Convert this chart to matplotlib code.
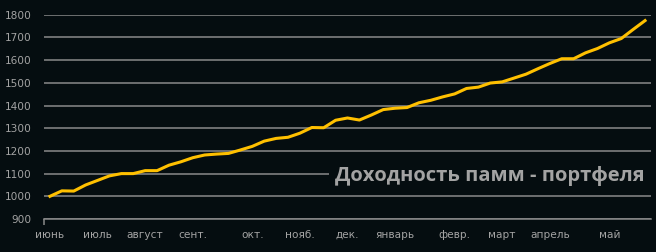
import matplotlib.pyplot as plt

# weekly values, June .. May
values = [
    1000, 1024, 1023, 1050, 1070, 1090, 1100, 1100, 1113, 1113,
    1137, 1152, 1170, 1182, 1186, 1189, 1204, 1220, 1243, 1255,
    1260, 1278, 1303, 1302, 1335, 1345, 1336, 1358, 1382, 1388,
    1391, 1412, 1423, 1438, 1451, 1475, 1481, 1499, 1504, 1521,
    1538, 1562, 1585, 1606, 1606, 1632, 1651, 1676, 1695, 1735,
    1774,
]
month_pos = [0, 4, 8, 12, 17, 21, 25, 29, 34, 38, 42, 47]
month_labels = ["июнь", "июль", "август", "сент.", "окт.", "нояб.",
                "дек.", "январь", "февр.", "март", "апрель", "май"]
y_ticks = list(range(900, 1801, 100))
title = "Доходность памм - портфеля"

bg = "#050d10"
txt = "#a3a3a3"
grid = "#8a8a8a"

plt.rcParams["font.family"] = ["DejaVu Sans"]

fig = plt.figure(figsize=(6.56, 2.52), dpi=100, facecolor=bg)
ax = fig.add_axes([44 / 656, 1 - 219 / 252, 607 / 656, (219 - 14.7) / 252])
ax.set_facecolor(bg)

ax.plot(range(len(values)), values, color="#ffc000", linewidth=2.2,
        solid_joinstyle="round", zorder=3)

ax.set_xlim(-0.5, len(values) - 0.5)
ax.set_ylim(900, 1800)
ax.set_yticks(y_ticks)
ax.set_yticklabels([str(v) for v in y_ticks])
ax.set_xticks(month_pos)
ax.set_xticklabels(month_labels)
ax.set_xticks([-0.5], minor=True)

ax.grid(axis="y", color=grid, linewidth=1.1, zorder=1)
for s in ["top", "right", "left"]:
    ax.spines[s].set_visible(False)
ax.spines["bottom"].set_color(grid)
ax.spines["bottom"].set_linewidth(1.1)

ax.tick_params(axis="y", length=0, pad=9, labelsize=7.6, labelcolor=txt)
ax.tick_params(axis="x", which="major", length=0, pad=8, labelsize=7.6,
               labelcolor=txt)
ax.tick_params(axis="x", which="minor", length=4, width=1.1, color=grid)

fig.text(645 / 656, 1 - 176 / 252, title, ha="right", va="center",
         fontsize=14.5, fontweight="bold", color=txt, zorder=5,
         family=["Open Sans", "DejaVu Sans"],
         bbox=dict(facecolor=bg, edgecolor="none", pad=5))

fig.savefig("out.png", dpi=100, facecolor=bg)
